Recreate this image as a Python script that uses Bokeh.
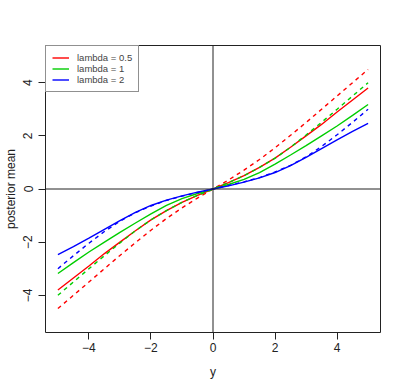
from bokeh.plotting import figure
from bokeh.models import Span, Legend, LegendItem, FixedTicker, Range1d
from bokeh.embed import file_html
from bokeh.resources import INLINE

# data
y_obs = [-5.0, -4.5, -4.0, -3.5, -3.0, -2.5, -2.0, -1.5, -1.0, -0.5, 0.0,
         0.5, 1.0, 1.5, 2.0, 2.5, 3.0, 3.5, 4.0, 4.5, 5.0]

red_solid = [-3.80, -3.35, -2.90, -2.43, -2.00, -1.57, -1.16, -0.81, -0.50, -0.24, 0.0,
             0.24, 0.50, 0.81, 1.16, 1.57, 2.00, 2.43, 2.90, 3.35, 3.80]
green_solid = [-3.18, -2.77, -2.37, -2.00, -1.63, -1.28, -0.94, -0.62, -0.36, -0.17, 0.0,
               0.17, 0.36, 0.62, 0.94, 1.28, 1.63, 2.00, 2.37, 2.77, 3.18]
blue_solid = [-2.47, -2.17, -1.85, -1.52, -1.19, -0.88, -0.62, -0.42, -0.26, -0.12, 0.0,
              0.12, 0.26, 0.42, 0.62, 0.88, 1.19, 1.52, 1.85, 2.17, 2.47]

red_dashed = [-4.50, -4.00, -3.50, -3.00, -2.50, -2.02, -1.55, -1.11, -0.71, -0.34, 0.0,
              0.34, 0.71, 1.11, 1.55, 2.02, 2.50, 3.00, 3.50, 4.00, 4.50]
green_dashed = [-4.00, -3.50, -3.00, -2.51, -2.03, -1.57, -1.16, -0.81, -0.50, -0.24, 0.0,
                0.24, 0.50, 0.81, 1.16, 1.57, 2.03, 2.51, 3.00, 3.50, 4.00]
blue_dashed = [-3.00, -2.51, -2.04, -1.60, -1.21, -0.89, -0.64, -0.43, -0.27, -0.13, 0.0,
               0.13, 0.27, 0.43, 0.64, 0.89, 1.21, 1.60, 2.04, 2.51, 3.00]

labels = ["lambda = 0.5", "lambda = 1", "lambda = 2"]
colors = ["#FF0000", "#00CD00", "#0000FF"]
ticks = [-4, -2, 0, 2, 4]

FONT = "Liberation Sans"

p = figure(width=403, height=388, output_backend="svg", toolbar_location=None,
           x_range=Range1d(-5.4, 5.4), y_range=Range1d(-5.4, 5.4),
           min_border_left=45, min_border_right=23, min_border_top=45, min_border_bottom=56)
p.background_fill_color = "white"
p.border_fill_color = "white"
p.outline_line_color = "#222222"
p.outline_line_width = 1
p.grid.visible = False

for ax in (p.xaxis[0], p.yaxis[0]):
    ax.ticker = FixedTicker(ticks=ticks)
    ax.axis_line_color = None
    ax.major_tick_line_color = "#222222"
    ax.major_tick_out = 7
    ax.major_tick_in = 0
    ax.minor_tick_line_color = None
    ax.major_label_text_font = FONT
    ax.major_label_text_font_size = "12px"
    ax.major_label_text_color = "#222222"
    ax.axis_label_text_font = FONT
    ax.axis_label_text_font_size = "12px"
    ax.axis_label_text_font_style = "normal"
    ax.axis_label_text_color = "#222222"

p.xaxis.axis_label = "y"
p.yaxis.axis_label = "posterior mean"
p.xaxis.major_label_standoff = 3
p.xaxis.axis_label_standoff = 10
p.yaxis.major_label_standoff = 6
p.yaxis.axis_label_standoff = 3
p.yaxis.major_label_orientation = "vertical"

p.add_layout(Span(location=0, dimension="width", line_color="#222222", line_width=1))
p.add_layout(Span(location=0, dimension="height", line_color="#222222", line_width=1))

items = []
for sol, das, c, lab in zip([red_solid, green_solid, blue_solid],
                            [red_dashed, green_dashed, blue_dashed], colors, labels):
    r = p.line(y_obs, sol, line_color=c, line_width=1.4)
    p.line(y_obs, das, line_color=c, line_width=1.4, line_dash="4 4")
    items.append(LegendItem(label=lab, renderers=[r]))

legend = Legend(items=items, location="top_left", margin=0, padding=6, spacing=0,
                label_height=11, glyph_height=11, glyph_width=17, label_standoff=8,
                label_text_font=FONT, label_text_font_size="9.5px",
                border_line_color="#222222", border_line_width=1,
                background_fill_color="white", background_fill_alpha=1.0)
p.add_layout(legend)

open("out.html", "w").write(file_html(p, INLINE))
